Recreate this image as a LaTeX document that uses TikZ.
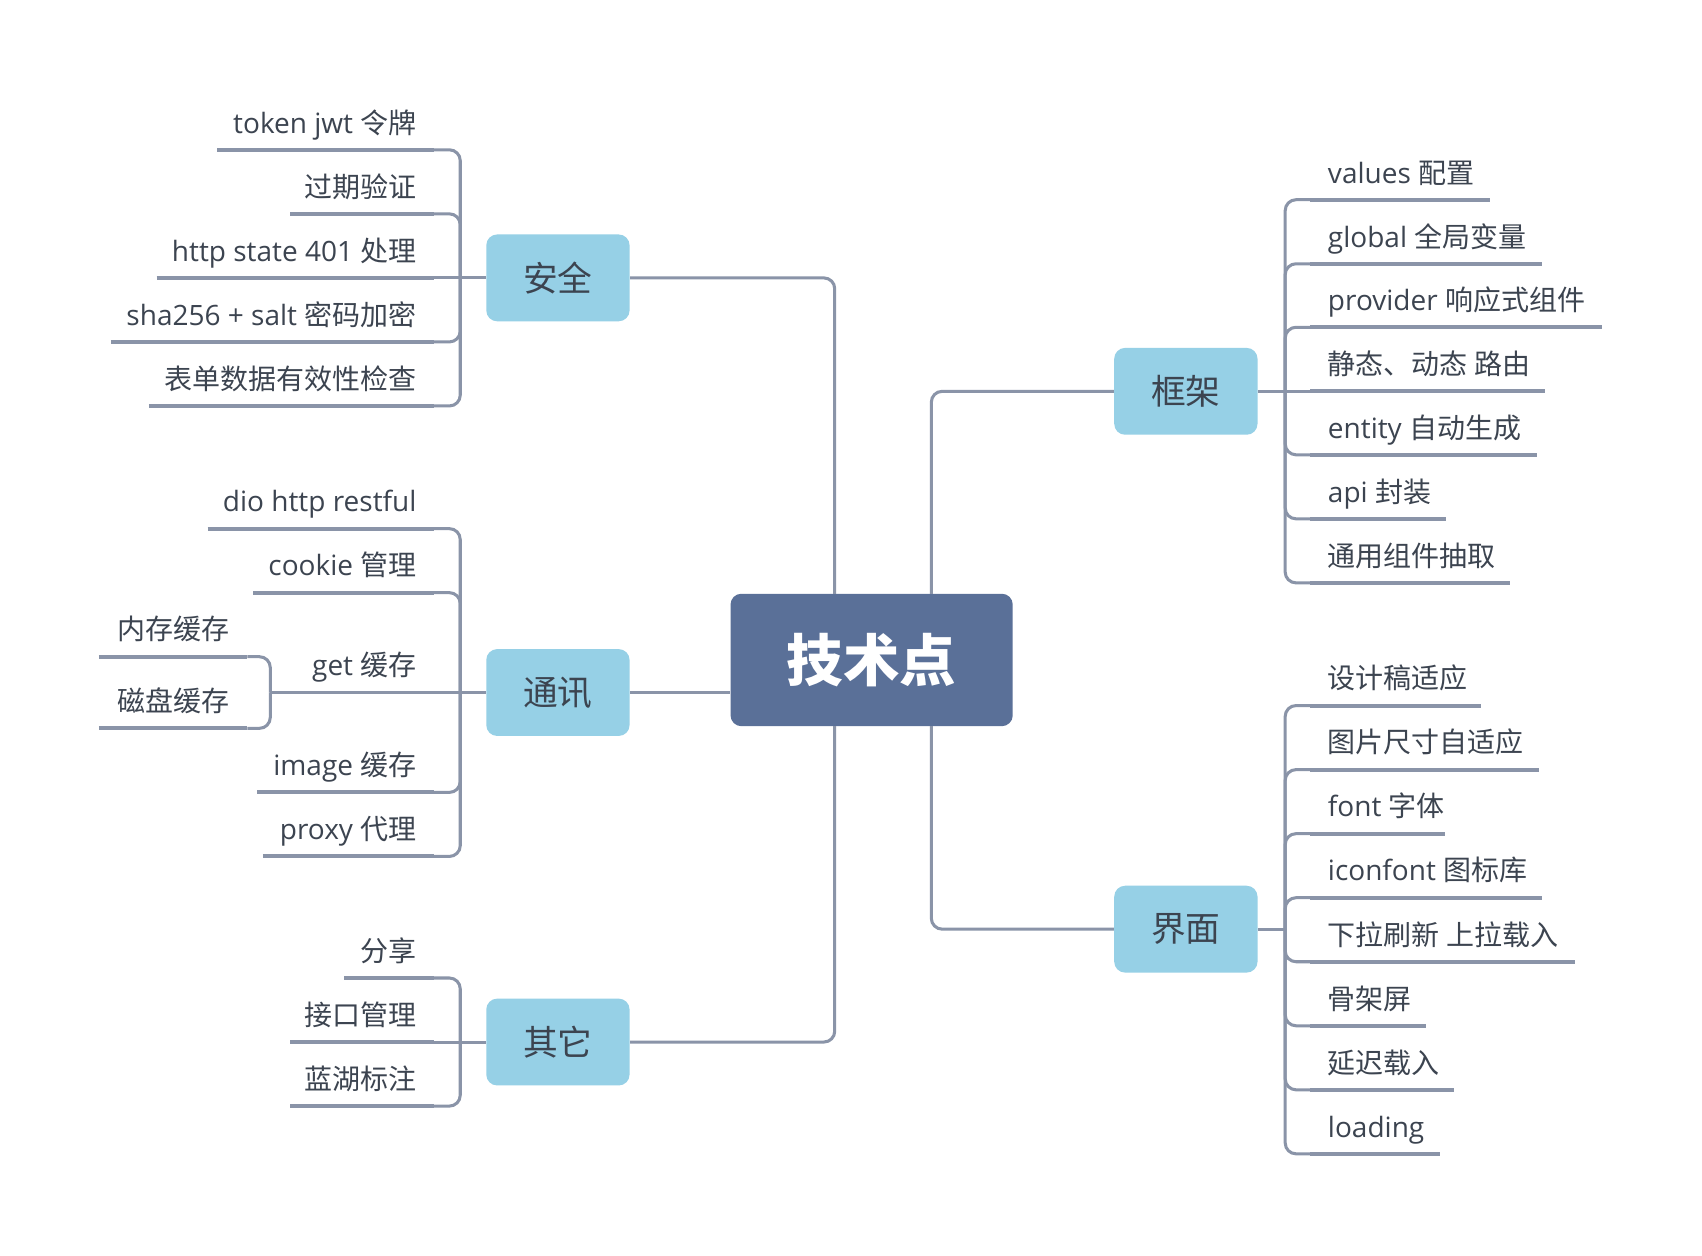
\documentclass[tikz,border=0pt]{standalone}
\usepackage{fontspec}
\setmainfont{Open Sans}
\newfontfamily\cjk{Noto Sans CJK SC}
\newcommand\zh[1]{{\cjk #1}}
\definecolor{txt}{HTML}{3C4450}
\definecolor{catblue}{HTML}{96D0E6}
\definecolor{mainblue}{HTML}{5A7098}
\definecolor{lnk}{HTML}{8A94A8}
\tikzset{
  leaf/.style={inner xsep=8pt, inner ysep=7.5pt, text depth=0pt, text=txt,
    font=\fontsize{12.9pt}{15pt}\selectfont},
  cat/.style={rounded corners=5pt, fill=catblue, minimum width=66pt, minimum height=40pt,
    inner sep=0pt, text=txt, font=\fontsize{16pt}{19pt}\selectfont},
  hub/.style={rounded corners=5pt, fill=mainblue, minimum width=130pt, minimum height=61pt,
    inner sep=0pt, text=white, font=\fontsize{26pt}{30pt}\selectfont\bfseries},
  conn/.style={draw=lnk, line width=1.4pt, rounded corners=5pt},
  uline/.style={draw=lnk, line width=1.8pt},
}
\newcommand\LL[5]{\node[leaf,anchor=south east] (#1) at (#2,#3) {\makebox[#4pt][r]{#5}};}
\newcommand\RL[5]{\node[leaf,anchor=south west] (#1) at (#2,#3) {\makebox[#4pt][l]{#5}};}
\begin{document}
\begin{tikzpicture}[x=0.5pt,y=-0.5pt]
\useasboundingbox[fill=white] (0,0) rectangle (1568,1157);
% central
\node[hub] (hub) at (803,608) {\zh{\bfseries 技术点}};
\node[cat] (aq) at (514,256) {\zh{安全}};
\node[cat] (tx) at (514,638) {\zh{通讯}};
\node[cat] (qt) at (514,960) {\zh{其它}};
\node[cat] (kj) at (1092.5,360.5) {\zh{框架}};
\node[cat] (jm) at (1092.5,856) {\zh{界面}};
\coordinate (hTL) at (769,547);
\coordinate (hBL) at (769,669);
\coordinate (hTR) at (858,547);
\coordinate (hBR) at (858,669);
\draw[conn] (hTL) |- (aq.east);
\draw[conn] (hBL) |- (qt.east);
\draw[conn] (hTR) |- (kj.west);
\draw[conn] (hBR) |- (jm.west);
\draw[conn] (tx.east) -- (tx.east -| hub.west);
% junctions
\coordinate (aJ) at (424,256);
\coordinate (tJ) at (424,638);
\coordinate (qJ) at (424,960);
\coordinate (kJ) at (1184,360.5);
\coordinate (jJ) at (1184,856);
\coordinate (gJ) at (249,638);
% 安全 leaves
\LL{a1}{400}{138}{83.5}{token jwt \zh{令牌}}
\LL{a2}{400}{197}{50}{\zh{过期验证}}
\LL{a3}{400}{256}{111.5}{http state 401 \zh{处理}}
\LL{a4}{400}{315}{132.5}{sha256 + salt \zh{密码加密}}
\LL{a5}{400}{374}{115}{\zh{表单数据有效性检查}}
% 通讯 leaves
\LL{t1}{400}{487}{88}{dio http restful}
\LL{t2}{400}{546}{67}{cookie \zh{管理}}
\LL{t3}{400}{638}{48}{get \zh{缓存}}
\LL{t4}{400}{730}{65}{image \zh{缓存}}
\LL{t5}{400}{789}{62.5}{proxy \zh{代理}}
\LL{g1}{228}{605}{52}{\zh{内存缓存}}
\LL{g2}{228}{671}{52}{\zh{磁盘缓存}}
% 其它 leaves
\LL{q1}{400}{901}{25}{\zh{分享}}
\LL{q2}{400}{960}{50}{\zh{接口管理}}
\LL{q3}{400}{1019}{50}{\zh{蓝湖标注}}
% 框架 leaves
\RL{k1}{1207}{184}{66.5}{values \zh{配置}}
\RL{k2}{1207}{243}{90.5}{global \zh{全局变量}}
\RL{k3}{1207}{301.5}{118}{provider \zh{响应式组件}}
\RL{k4}{1207}{360.5}{92}{\zh{静态、动态 路由}}
\RL{k5}{1207}{419}{88}{entity \zh{自动生成}}
\RL{k6}{1207}{478}{46}{api \zh{封装}}
\RL{k7}{1207}{537}{75.5}{\zh{通用组件抽取}}
% 界面 leaves
\RL{j1}{1207}{650}{62.5}{\zh{设计稿适应}}
\RL{j2}{1207}{709}{89}{\zh{图片尺寸自适应}}
\RL{j3}{1207}{768}{45.5}{font \zh{字体}}
\RL{j4}{1207}{827}{90.5}{iconfont \zh{图标库}}
\RL{j5}{1207}{886}{105.5}{\zh{下拉刷新 上拉载入}}
\RL{j6}{1207}{945}{37}{\zh{骨架屏}}
\RL{j7}{1207}{1004}{50}{\zh{延迟载入}}
\RL{j8}{1207}{1063}{43.5}{loading}
% underlines
\foreach \n in {a1,a2,a3,a4,a5,t1,t2,t3,t4,t5,g1,g2,q1,q2,q3,k1,k2,k3,k4,k5,k6,k7,j1,j2,j3,j4,j5,j6,j7,j8}
  \draw[uline] (\n.south west) -- (\n.south east);
% branch connectors
\draw[conn] (aq.west) -- (a3.south east);
\foreach \n in {a1,a2,a4,a5} \draw[conn] (aJ) |- (\n.south east);
\draw[conn] (tx.west) -- (t3.south east);
\foreach \n in {t1,t2,t4,t5} \draw[conn] (tJ) |- (\n.south east);
\draw[conn] (t3.south west) -- (gJ);
\foreach \n in {g1,g2} \draw[conn] (gJ) |- (\n.south east);
\draw[conn] (qt.west) -- (q2.south east);
\foreach \n in {q1,q3} \draw[conn] (qJ) |- (\n.south east);
\draw[conn] (kj.east) -- (k4.south west);
\foreach \n in {k1,k2,k3,k5,k6,k7} \draw[conn] (kJ) |- (\n.south west);
\draw[conn] (jm.east) -- (jJ);
\foreach \n in {j1,j2,j3,j4,j5,j6,j7,j8} \draw[conn] (jJ) |- (\n.south west);
\end{tikzpicture}
\end{document}
